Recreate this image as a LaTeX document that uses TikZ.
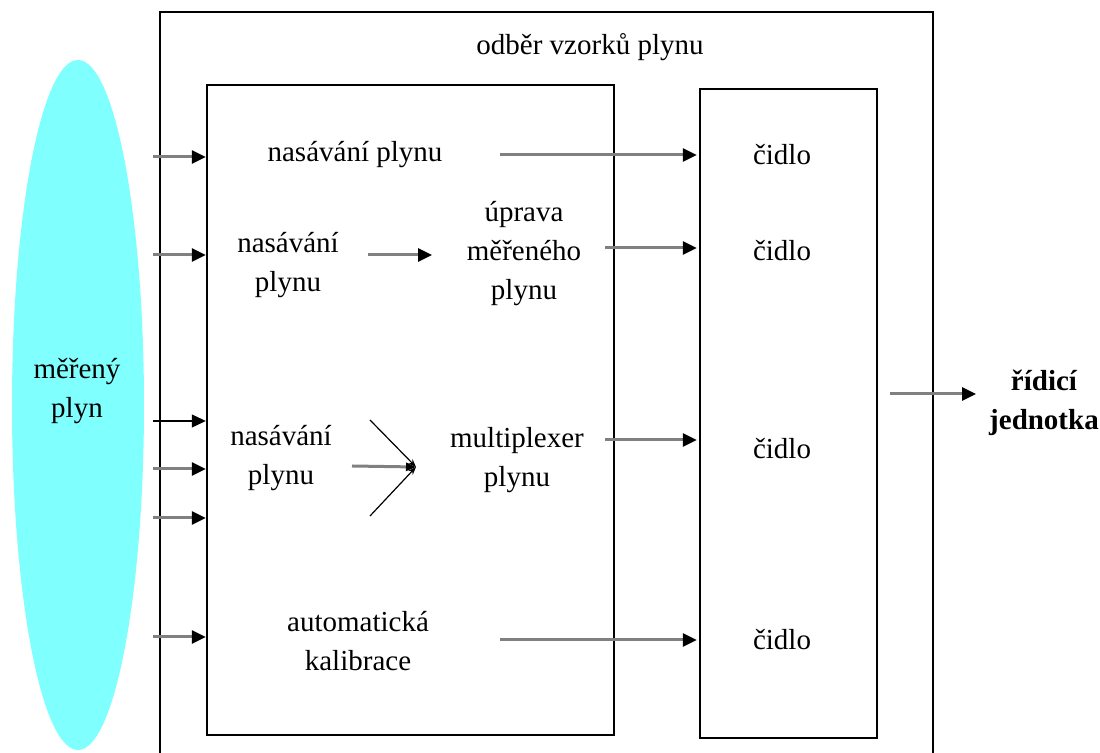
\documentclass[tikz,border=0pt]{standalone}
\usepackage{fontspec}
\setmainfont{Liberation Serif}
\usetikzlibrary{arrows.meta}
\definecolor{gasfill}{HTML}{80FFFF}
\tikzset{
  lbl/.style={align=center,inner sep=0pt,font=\fontsize{14.5}{19.5}\selectfont},
  box/.style={draw,line width=1.2pt,inner sep=0pt},
  feed/.style={draw=gray,line width=1.5pt,-{Triangle[color=black,length=7pt,width=6.5pt]}},
  wire/.style={draw=black,line width=0.6pt,-{Triangle[length=7pt,width=6.5pt]}},
  spoke/.style={draw=black,line width=0.6pt,-{Stealth[length=4pt,width=3pt]}}
}
\begin{document}
\begin{tikzpicture}[x=0.5pt,y=-0.5pt]
    \useasboundingbox (0,0) rectangle (1100,753);
    % measured gas
    \fill[gasfill] (78,405) ellipse [x radius=66,y radius=345];
    \node[lbl] (gas) at (77,391) {měřený\\plyn};
    % outer frame, open at the bottom
    \draw[line width=1.2pt] (160,760) -- (160,12) -- (933,12) -- (933,760);
    \node[lbl] (title) at (590,47) {odběr vzorků plynu};
    \node[box,minimum width=203.5pt,minimum height=325pt] (proc) at (410.5,410) {};
    \node[box,minimum width=88.5pt,minimum height=324.5pt] (sens) at (788.5,413.5) {};
    % processing blocks
    \node[lbl] (suck1) at (355,155) {nasávání plynu};
    \node[lbl] (suck2) at (288,265) {nasávání\\plynu};
    \node[lbl] (prep) at (524,254) {úprava\\měřeného\\plynu};
    \node[lbl] (suck3) at (281,458) {nasávání\\plynu};
    \node[lbl] (mux) at (517,460) {multiplexer\\plynu};
    \node[lbl] (calib) at (358,641) {automatická\\kalibrace};
    % sensors
    \foreach \n/\y in {1/155,2/251,3/449,4/640}{
        \node[lbl] (s\n) at (782,\y) {čidlo};
    }
    \node[lbl,font=\fontsize{14.5}{19.5}\selectfont\bfseries] (ctrl) at (1044,403) {řídicí\\jednotka};
    % inputs from the gas
    \foreach \n/\y in {1/157,2/255,4/469,5/518,6/637}{
        \coordinate (in\n) at (153,\y);
        \draw[feed] (in\n) -- (in\n -| proc.west);
    }
    \coordinate (in3) at (153,421);
    \draw[wire] (in3) -- (in3 -| proc.west);
    % to the sensors
    \draw[feed,shorten >=1pt] (500,155) -- (s1 -| sens.west);
    \draw[feed,shorten >=1pt] (605,248) -- (sens.west |- 0,248);
    \draw[feed,shorten >=1pt] (605,440) -- (sens.west |- 0,440);
    \draw[feed,shorten >=1pt] (500,640) -- (s4 -| sens.west);
    \draw[feed] (368,255) -- (432,255);
    % multiplexer fan
    \coordinate (fan) at (416,467);
    \draw[spoke] (370,420) -- (fan);
    \draw[spoke] (370,516) -- (fan);
    \draw[draw=gray,line width=1.5pt,-{Triangle[color=black,length=5pt,width=4pt]}] (352,466) -- (fan);
    % to the control unit
    \draw[feed] (890,394) -- (976,394);
\end{tikzpicture}
\end{document}
